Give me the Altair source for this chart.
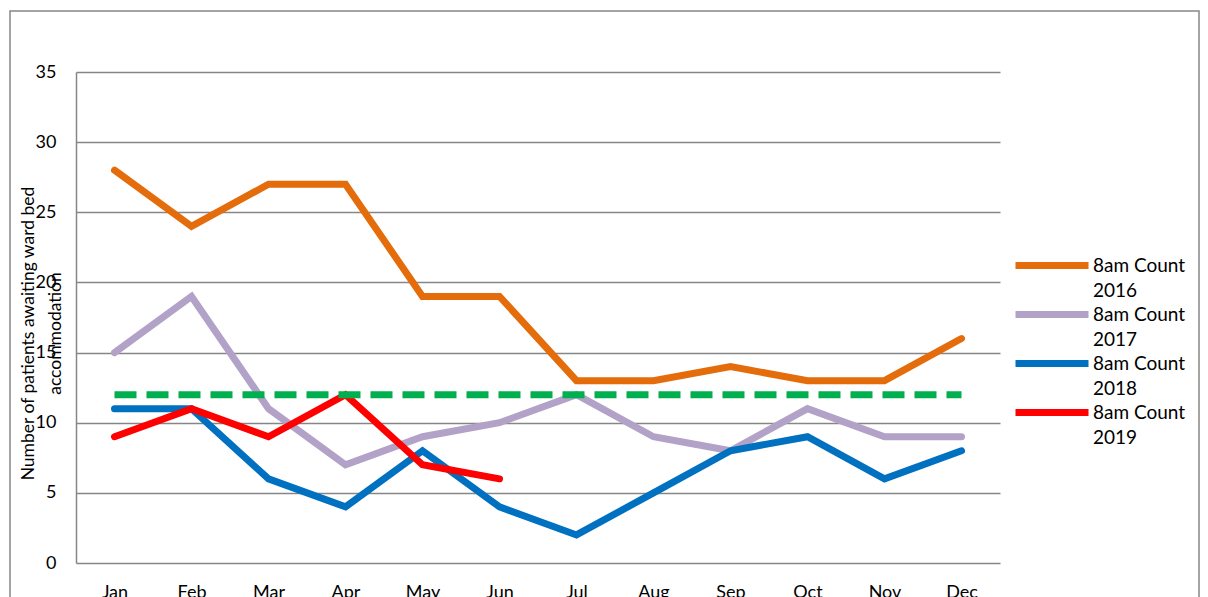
import altair as alt
import pandas as pd

months = ["Jan", "Feb", "Mar", "Apr", "May", "Jun", "Jul", "Aug", "Sep", "Oct", "Nov", "Dec"]
s2016 = [28, 24, 27, 27, 19, 19, 13, 13, 14, 13, 13, 16]
s2017 = [15, 19, 11, 7, 9, 10, 12, 9, 8, 11, 9, 9]
s2018 = [11, 11, 6, 4, 8, 4, 2, 5, 8, 9, 6, 8]
s2019 = [9, 11, 9, 12, 7, 6]
target = [12] * 12

series_names = ["8am Count 2016", "8am Count 2017", "8am Count 2018", "8am Count 2019"]
series_vals = [s2016, s2017, s2018, s2019]
colors = ["#E46C0A", "#B3A2C7", "#0070C0", "#FF0000"]

rows = []
for name, vals in zip(series_names, series_vals):
    for i, v in enumerate(vals):
        rows.append({"month": months[i], "value": v, "series": name, "order": i})
df = pd.DataFrame(rows)
tdf = pd.DataFrame({"month": months, "value": target})

FONT = "Lato"

xenc = alt.X("month:N", sort=months, scale=alt.Scale(domain=months, paddingInner=0, paddingOuter=0),
             axis=alt.Axis(title=None, labelAngle=0, ticks=False, domain=False, grid=False,
                           labelPadding=20, labelFontSize=18, labelColor="#000000", labelFont=FONT))
yenc = alt.Y("value:Q", scale=alt.Scale(domain=[0, 35]),
             axis=alt.Axis(values=[0, 5, 10, 15, 20, 25, 30, 35], ticks=False, domain=True,
                           domainColor="#868686", domainWidth=1.5,
                           grid=True, gridColor="#868686", gridWidth=1.5,
                           labelPadding=20, labelFontSize=18, labelColor="#000000", labelFont=FONT,
                           title=["Number of patients awaiting ward bed", "accommodation"],
                           titleFont=FONT, titleFontSize=17.5, titleFontWeight="normal",
                           titleColor="#000000", titleAngle=-90, titleX=-43, titleY=261,
                           titleBaseline="alphabetic", titleLineHeight=27, titleAlign="center"))

frame = alt.Chart(pd.DataFrame({"a": [0]})).mark_rect(fill=None, stroke="#868686", strokeWidth=1.5).encode(
    x=alt.value(-66), x2=alt.value(1123), y=alt.value(-61), y2=alt.value(560)
)

lines = alt.Chart(df).mark_line(strokeWidth=7, strokeCap="round", strokeJoin="miter").encode(
    x=xenc,
    y=yenc,
    order="order:Q",
    color=alt.Color("series:N", scale=alt.Scale(domain=series_names, range=colors),
                    legend=alt.Legend(title=None, orient="none", legendX=962.5, legendY=180,
                                      symbolType="M -3.65 0 L 3.65 0", symbolSize=400,
                                      symbolStrokeWidth=7,
                                      labelFont=FONT, labelFontSize=19, labelColor="#000000",
                                      labelExpr="[slice(datum.label,0,9), slice(datum.label,10)]",
                                      labelBaseline="middle", labelOffset=27.5, rowPadding=-5,
                                      labelLimit=300)),
)

tline = alt.Chart(tdf).mark_line(strokeWidth=7, strokeDash=[22, 10], color="#00B050").encode(
    x=alt.X("month:N", sort=months),
    y=alt.Y("value:Q"),
)

chart = alt.layer(frame, lines, tline).properties(
    width=924, height=491,
    title=alt.TitleParams("8am ED Wait Volume Montly Average", font=FONT, fontSize=19,
                          fontWeight="bold", color="#000000", anchor="middle", frame="group",
                          dx=77, offset=16),
    autosize=alt.AutoSizeParams(type="none"),
    padding={"left": 68, "top": 64, "right": 200, "bottom": 38},
).configure(
    background="#ffffff",
    style={"guide-label": {"lineHeight": 25}},
).configure_view(stroke=None)

chart.save("out.html", embed_options={"renderer": "svg", "actions": False})
